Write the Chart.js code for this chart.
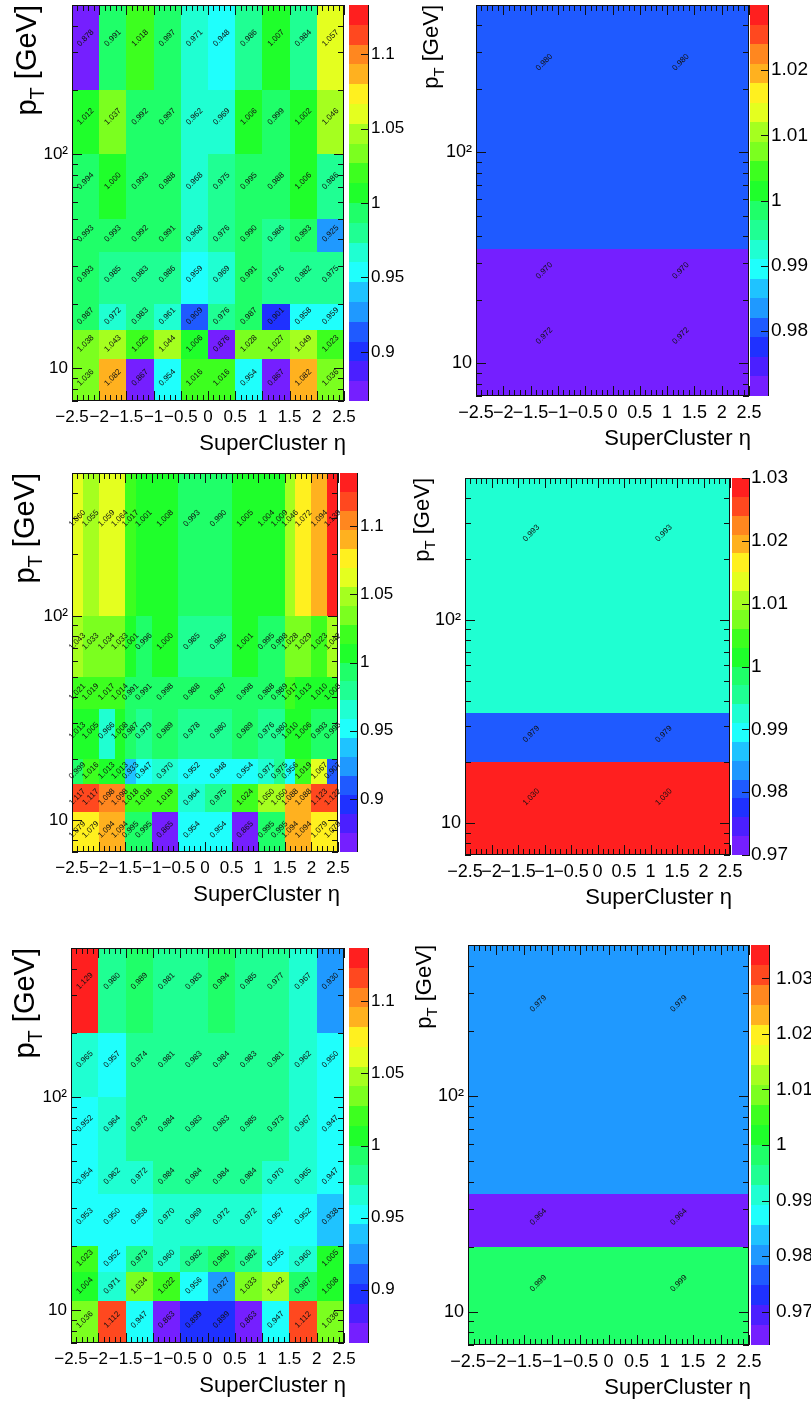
<!DOCTYPE html>
<html>
<head>
<meta charset="utf-8">
<title>Scale factors vs SuperCluster eta and pT</title>
<script src="https://cdn.jsdelivr.net/npm/chart.js@4.4.1/dist/chart.umd.min.js"></script>
<style>
  html, body { margin: 0; padding: 0; background: #fff; }
  #page { position: relative; width: 811px; height: 1405px; overflow: hidden; }
  canvas { position: absolute; }
</style>
</head>
<body>
<div id="page">
  <canvas id="pTL" width="405" height="465" style="left:0;top:0"></canvas>
  <canvas id="pTR" width="406" height="465" style="left:405px;top:0"></canvas>
  <canvas id="pML" width="405" height="470" style="left:0;top:465px"></canvas>
  <canvas id="pMR" width="406" height="470" style="left:405px;top:465px"></canvas>
  <canvas id="pBL" width="405" height="470" style="left:0;top:935px"></canvas>
  <canvas id="pBR" width="406" height="470" style="left:405px;top:935px"></canvas>
</div>
<script>
const FONT = '"Liberation Sans", Arial, Helvetica, sans-serif';
const NCONT = 20;   // colour levels
const NPAL = 50;    // palette size

// eta bin edges
const etaEdges = [-2.5, -2, -1.5, -1, -0.5, 0, 0.5, 1, 1.5, 2, 2.5];
const etaEdgesFine = [-2.5, -2.3, -2, -1.7, -1.5, -1.3, -1, -0.5, 0, 0.5, 1, 1.3, 1.5, 1.7, 2, 2.3, 2.5];
const etaEdgesHalf = [-2.5, 0, 2.5];
const etaTicks = [-2.5, -2, -1.5, -1, -0.5, 0, 0.5, 1, 1.5, 2, 2.5];

// pT bin edges (GeV)
const ptEdges = [7, 11, 15, 20, 35, 50, 100, 200, 500];
const ptEdgesMerged = [7, 11, 15, 20, 35, 50, 100, 500];
const ptEdgesWide = [7, 20, 35, 500];
const ptTicks = [10, 100];

// colour bar labels
const zTicksWide = [0.9, 0.95, 1, 1.05, 1.1];
const zTicksNarrow = [0.98, 0.99, 1, 1.01, 1.02];
const zTicksNarrowFull = [0.97, 0.98, 0.99, 1, 1.01, 1.02, 1.03];

// scale factors, one row per pT bin, lowest pT first
const sfTopLeft = [
  [1.036, 1.082, 0.867, 0.954, 1.016, 1.016, 0.954, 0.867, 1.082, 1.036],
  [1.038, 1.043, 1.025, 1.044, 1.006, 0.876, 1.028, 1.027, 1.049, 1.023],
  [0.987, 0.972, 0.983, 0.961, 0.909, 0.976, 0.987, 0.901, 0.958, 0.959],
  [0.993, 0.985, 0.983, 0.986, 0.959, 0.969, 0.991, 0.976, 0.982, 0.975],
  [0.993, 0.993, 0.992, 0.991, 0.968, 0.976, 0.990, 0.986, 0.993, 0.925],
  [0.994, 1.000, 0.993, 0.988, 0.968, 0.975, 0.995, 0.988, 1.006, 0.986],
  [1.012, 1.037, 0.992, 0.997, 0.962, 0.969, 1.006, 0.999, 1.002, 1.046],
  [0.878, 0.991, 1.018, 0.997, 0.971, 0.948, 0.986, 1.007, 0.984, 1.057]
];
const sfTopRight = [
  [0.972, 0.972],
  [0.970, 0.970],
  [0.980, 0.980]
];
const sfMidLeft = [
  [1.079, 1.079, 1.094, 1.094, 0.995, 0.995, 0.865, 0.954, 0.954, 0.865, 0.995, 0.995, 1.094, 1.094, 1.079, 1.079],
  [1.117, 1.117, 1.098, 1.098, 1.018, 1.018, 1.019, 0.964, 0.975, 1.024, 1.050, 1.050, 1.088, 1.088, 1.123, 1.122],
  [0.999, 1.016, 1.013, 1.013, 0.933, 0.947, 0.970, 0.952, 0.948, 0.954, 0.971, 0.975, 0.956, 1.019, 1.067, 0.907],
  [1.013, 1.005, 0.966, 1.008, 0.987, 0.979, 0.989, 0.978, 0.980, 0.989, 0.976, 0.980, 1.010, 1.006, 0.993, 0.995],
  [1.021, 1.019, 1.017, 1.014, 0.991, 0.991, 0.998, 0.988, 0.987, 0.998, 0.988, 0.989, 1.017, 1.013, 1.010, 1.008],
  [1.043, 1.033, 1.034, 1.033, 1.001, 0.996, 1.000, 0.985, 0.985, 1.001, 0.995, 0.998, 1.028, 1.029, 1.023, 1.042],
  [1.060, 1.055, 1.059, 1.064, 1.017, 1.001, 1.008, 0.993, 0.990, 1.005, 1.004, 1.009, 1.046, 1.072, 1.094, 1.139]
];
const sfMidRight = [
  [1.030, 1.030],
  [0.979, 0.979],
  [0.993, 0.993]
];
const sfBottomLeft = [
  [1.036, 1.112, 0.947, 0.863, 0.899, 0.899, 0.863, 0.947, 1.112, 1.036],
  [1.004, 0.971, 1.034, 1.022, 0.956, 0.927, 1.033, 1.042, 0.987, 1.008],
  [1.023, 0.952, 0.973, 0.960, 0.982, 0.990, 0.982, 0.955, 0.960, 1.005],
  [0.953, 0.950, 0.958, 0.970, 0.969, 0.972, 0.972, 0.957, 0.952, 0.938],
  [0.954, 0.962, 0.972, 0.984, 0.984, 0.984, 0.984, 0.970, 0.965, 0.947],
  [0.952, 0.964, 0.973, 0.984, 0.983, 0.983, 0.985, 0.973, 0.967, 0.947],
  [0.965, 0.957, 0.974, 0.981, 0.983, 0.984, 0.983, 0.981, 0.962, 0.950],
  [1.129, 0.980, 0.989, 0.981, 0.983, 0.994, 0.985, 0.977, 0.967, 0.930]
];
const sfBottomRight = [
  [0.999, 0.999],
  [0.964, 0.964],
  [0.979, 0.979]
];

// frame = plot box inside each canvas, bar = colour bar gap/width
const panels = [
  { canvas: 'pTL', xEdges: etaEdges, yEdges: ptEdges, values: sfTopLeft, zTicks: zTicksWide,
    frame: { left: 72, top: 5, right: 344, bottom: 401 }, bar: { gap: 5, width: 19 }, zPad: 27,
    tickSize: 17, zSize: 17, titleX: 36, titleSize: 29 },
  { canvas: 'pTR', xEdges: etaEdgesHalf, yEdges: ptEdgesWide, values: sfTopRight, zTicks: zTicksNarrow,
    frame: { left: 71, top: 5, right: 344, bottom: 396 }, bar: { gap: 1, width: 18 }, zPad: 22,
    tickSize: 18, zSize: 19, titleX: 33, titleSize: 22 },
  { canvas: 'pML', xEdges: etaEdgesFine, yEdges: ptEdgesMerged, values: sfMidLeft, zTicks: zTicksWide,
    frame: { left: 72, top: 8, right: 338, bottom: 387 }, bar: { gap: 2, width: 17 }, zPad: 22,
    tickSize: 17, zSize: 17, titleX: 34, titleSize: 29 },
  { canvas: 'pMR', xEdges: etaEdgesHalf, yEdges: ptEdgesWide, values: sfMidRight, zTicks: zTicksNarrowFull,
    frame: { left: 60, top: 13, right: 325, bottom: 390 }, bar: { gap: 2, width: 17 }, zPad: 21,
    tickSize: 18, zSize: 19, titleX: 24, titleSize: 22 },
  { canvas: 'pBL', xEdges: etaEdges, yEdges: ptEdges, values: sfBottomLeft, zTicks: zTicksWide,
    frame: { left: 71, top: 13, right: 344, bottom: 408 }, bar: { gap: 5, width: 19 }, zPad: 27,
    tickSize: 17, zSize: 17, titleX: 34, titleSize: 29 },
  { canvas: 'pBR', xEdges: etaEdgesHalf, yEdges: ptEdgesWide, values: sfBottomRight, zTicks: zTicksNarrowFull,
    frame: { left: 63, top: 10, right: 344, bottom: 410 }, bar: { gap: 2, width: 18 }, zPad: 27,
    tickSize: 18, zSize: 19, titleX: 26, titleSize: 22 }
];

function binColor(v, zMin, zMax) {
  let k = Math.floor((v - zMin) / (zMax - zMin) * NCONT + 1e-6);
  k = Math.min(NCONT - 1, Math.max(0, k));
  const idx = Math.floor((k + 0.99) * NPAL / NCONT);
  const hue = 280 - (idx + 1) * 280 / NPAL;
  return 'hsl(' + hue.toFixed(1) + ', 100%, 56%)';
}

function fmtEta(v) {
  const s = String(Math.abs(Math.round(v * 10) / 10));
  return v < -1e-9 ? '\u2212' + s : s;
}

function zeroPad(s) {
  s.paddingLeft = 0; s.paddingRight = 0; s.paddingTop = 0; s.paddingBottom = 0;
}

function logTickValues(min, max) {
  const out = [];
  for (let d = 1; d <= 1000; d *= 10) {
    for (let m = 1; m <= 9; m++) {
      const v = m * d;
      if (v >= min && v <= max) out.push({ v: v, major: m === 1 });
    }
  }
  return out;
}

function heatmapPlugin(p) {
  return {
    id: 'heatmap',
    beforeDatasetsDraw(chart) {
      const { ctx, scales: { x, y } } = chart;
      ctx.save();
      p.values.forEach((row, j) => {
        const yTop = Math.round(y.getPixelForValue(p.yEdges[j + 1]));
        const yBot = Math.round(y.getPixelForValue(p.yEdges[j]));
        row.forEach((v, i) => {
          const xL = Math.round(x.getPixelForValue(p.xEdges[i]));
          const xR = Math.round(x.getPixelForValue(p.xEdges[i + 1]));
          ctx.fillStyle = binColor(v, p.zMin, p.zMax);
          ctx.fillRect(xL, yTop, xR - xL, yBot - yTop);
        });
      });
      ctx.restore();
    },
    afterDatasetsDraw(chart) {
      // bin contents, written at the bin centres
      const { ctx } = chart;
      const pts = chart.getDatasetMeta(0).data;
      const raw = chart.data.datasets[0].data;
      ctx.save();
      ctx.fillStyle = '#111';
      ctx.font = '8px ' + FONT;
      ctx.textAlign = 'center';
      ctx.textBaseline = 'middle';
      pts.forEach((pt, n) => {
        ctx.save();
        ctx.translate(pt.x, pt.y);
        ctx.rotate(-Math.PI / 4);
        ctx.fillText(raw[n].v.toFixed(3), 0, 0);
        ctx.restore();
      });
      ctx.restore();
    },
    afterDraw(chart) {
      const { ctx, chartArea: a, scales: { x, y, z } } = chart;
      ctx.save();

      // colour bar
      const bx0 = a.right + p.bar.gap;
      const bx1 = bx0 + p.bar.width;
      const dz = (p.zMax - p.zMin) / NCONT;
      for (let k = 0; k < NCONT; k++) {
        const lo = p.zMin + k * dz;
        const yb = Math.round(z.getPixelForValue(lo));
        const yt = Math.round(z.getPixelForValue(lo + dz));
        ctx.fillStyle = binColor(lo + dz / 2, p.zMin, p.zMax);
        ctx.fillRect(bx0, yt, bx1 - bx0, yb - yt);
      }
      ctx.strokeStyle = '#111';
      ctx.lineWidth = 1;
      ctx.beginPath();
      ctx.moveTo(bx1 + 0.5, z.top);
      ctx.lineTo(bx1 + 0.5, z.bottom);
      p.zTicks.forEach(t => {
        const py = Math.round(z.getPixelForValue(t)) + 0.5;
        ctx.moveTo(bx1 - 7, py);
        ctx.lineTo(bx1 + 1, py);
      });
      ctx.stroke();

      // frame
      ctx.strokeStyle = '#111';
      ctx.strokeRect(a.left + 0.5, a.top + 0.5, a.right - a.left - 1, a.bottom - a.top - 1);

      // ticks on all four sides, pointing inwards
      ctx.beginPath();
      for (let i = -25; i <= 25; i++) {
        const px = Math.round(x.getPixelForValue(i / 10)) + 0.5;
        const len = i % 5 === 0 ? 10 : 6;
        ctx.moveTo(px, a.bottom); ctx.lineTo(px, a.bottom - len);
        ctx.moveTo(px, a.top); ctx.lineTo(px, a.top + len);
      }
      logTickValues(y.min, y.max).forEach(t => {
        const py = Math.round(y.getPixelForValue(t.v)) + 0.5;
        const len = t.major ? 10 : 6;
        ctx.moveTo(a.left, py); ctx.lineTo(a.left + len, py);
        ctx.moveTo(a.right, py); ctx.lineTo(a.right - len, py);
      });
      ctx.stroke();

      // axis titles
      ctx.fillStyle = '#000';
      ctx.font = '22px ' + FONT;
      ctx.textAlign = 'right';
      ctx.textBaseline = 'alphabetic';
      ctx.fillText('SuperCluster \u03b7', a.right + 2, a.bottom + 49);

      const big = p.titleSize, small = Math.round(p.titleSize * 0.68);
      ctx.translate(p.titleX, a.top);
      ctx.rotate(-Math.PI / 2);
      ctx.textAlign = 'left';
      ctx.font = big + 'px ' + FONT;
      const wP = ctx.measureText('p').width;
      const wG = ctx.measureText(' [GeV]').width;
      ctx.font = small + 'px ' + FONT;
      const wT = ctx.measureText('T').width;
      const x0 = -(wP + wT + wG);
      ctx.font = big + 'px ' + FONT;
      ctx.fillText('p', x0, 0);
      ctx.fillText(' [GeV]', x0 + wP + wT, 0);
      ctx.font = small + 'px ' + FONT;
      ctx.fillText('T', x0 + wP, big * 0.27);
      ctx.restore();
    }
  };
}

function makePanel(p) {
  const el = document.getElementById(p.canvas);
  const W = el.width, H = el.height, f = p.frame;
  let dev = 0;
  p.values.forEach(row => row.forEach(v => { dev = Math.max(dev, Math.abs(v - 1)); }));
  dev = Math.round(dev * 1000) / 1000;
  p.zMin = 1 - dev;
  p.zMax = 1 + dev;

  const centres = [];
  p.values.forEach((row, j) => row.forEach((v, i) => {
    centres.push({
      x: (p.xEdges[i] + p.xEdges[i + 1]) / 2,
      y: (p.yEdges[j] + p.yEdges[j + 1]) / 2,
      v: v
    });
  }));

  const tickFont = { family: FONT, size: p.tickSize };
  return new Chart(el, {
    type: 'scatter',
    data: { datasets: [{ data: centres, pointRadius: 0, showLine: false }] },
    options: {
      responsive: false,
      animation: false,
      devicePixelRatio: 1,
      events: [],
      layout: { padding: { top: f.top, left: 0, right: 0, bottom: 0 } },
      plugins: { legend: { display: false }, tooltip: { enabled: false } },
      scales: {
        x: {
          type: 'linear', position: 'bottom', min: -2.5, max: 2.5,
          grid: { display: false, drawTicks: false }, border: { display: false },
          ticks: { autoSkip: false, maxRotation: 0, minRotation: 0, padding: 6, color: '#000', font: tickFont, callback: fmtEta },
          afterBuildTicks: s => { s.ticks = etaTicks.map(value => ({ value })); },
          afterFit: s => { s.height = H - f.bottom; zeroPad(s); }
        },
        y: {
          type: 'logarithmic', position: 'left', min: 7, max: 500,
          grid: { display: false, drawTicks: false }, border: { display: false },
          ticks: { autoSkip: false, padding: 4, color: '#000', font: tickFont,
                   callback: v => (v === 100 ? '10\u00b2' : '10') },
          afterBuildTicks: s => { s.ticks = ptTicks.map(value => ({ value })); },
          afterFit: s => { s.width = f.left; zeroPad(s); }
        },
        z: {
          type: 'linear', position: 'right', min: p.zMin, max: p.zMax,
          grid: { display: false, drawTicks: false }, border: { display: false },
          ticks: { autoSkip: false, padding: p.zPad, color: '#000', font: { family: FONT, size: p.zSize },
                   callback: v => String(parseFloat(Number(v).toFixed(3))) },
          afterBuildTicks: s => { s.ticks = p.zTicks.map(value => ({ value })); },
          afterFit: s => { s.width = W - f.right; zeroPad(s); }
        }
      }
    },
    plugins: [heatmapPlugin(p)]
  });
}

panels.forEach(makePanel);
</script>
</body>
</html>
